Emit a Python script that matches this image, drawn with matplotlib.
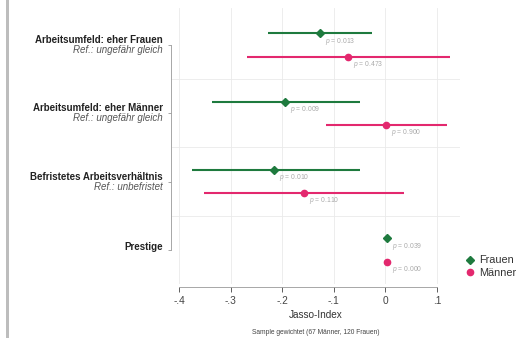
import matplotlib
matplotlib.use('Agg')
import matplotlib.pyplot as plt
from matplotlib.lines import Line2D
from matplotlib.patches import Rectangle

plt.rcParams['font.family'] = ['Liberation Sans', 'DejaVu Sans']
plt.rcParams['mathtext.fontset'] = 'custom'
plt.rcParams['mathtext.it'] = 'Liberation Sans:italic'
plt.rcParams['mathtext.rm'] = 'Liberation Sans'

# ============================================================
# DATA
# ============================================================
categories = ['Arbeitsumfeld: eher Frauen', 'Arbeitsumfeld: eher Männer',
              'Befristetes Arbeitsverhältnis', 'Prestige']
references = ['Ref.: ungefähr gleich', 'Ref.: ungefähr gleich',
              'Ref.: unbefristet', '']

frauen_est = [-0.126, -0.195, -0.216, 0.004]
frauen_lo = [-0.228, -0.337, -0.375, 0.002]
frauen_hi = [-0.025, -0.050, -0.050, 0.006]
frauen_p = ['0.013', '0.009', '0.010', '0.039']

maenner_est = [-0.072, 0.002, -0.158, 0.003]
maenner_lo = [-0.268, -0.115, -0.352, 0.002]
maenner_hi = [0.126, 0.119, 0.037, 0.004]
maenner_p = ['0.473', '0.900', '0.110', '0.000']

x_ticks = [-0.4, -0.3, -0.2, -0.1, 0.0, 0.1]
x_ticklabels = ['-.4', '-.3', '-.2', '-.1', '0', '.1']

GREEN = '#1e7a3e'
PINK = '#e3286e'
OFFSET = 0.17

fig = plt.figure(figsize=(5.24, 3.38), dpi=100)
ax = fig.add_axes([172 / 524, 1 - 284 / 338, 288 / 524, 276 / 338])

ypos = list(range(1, len(categories) + 1))

# gridlines
for x in x_ticks:
    ax.axvline(x, color='#eaeaea', lw=0.6, zorder=0)
for y in [1.5, 2.5, 3.5]:
    ax.axhline(y, color='#eaeaea', lw=0.6, zorder=0)

# Frauen
yf = [y - OFFSET for y in ypos]
ax.hlines(yf, frauen_lo, frauen_hi, color=GREEN, lw=1.5, zorder=2)
ax.plot(frauen_est, yf, 'D', color=GREEN, ms=4.2, zorder=3, ls='none')
# Maenner
ym = [y + OFFSET for y in ypos]
ax.hlines(ym, maenner_lo, maenner_hi, color=PINK, lw=1.5, zorder=2)
ax.plot(maenner_est, ym, 'o', color=PINK, ms=4.5, zorder=3, ls='none')

for est, y, p in zip(frauen_est + maenner_est, yf + ym, frauen_p + maenner_p):
    ax.annotate(f'$p$ = {p}', (est, y), xytext=(3.5, -5.5),
                textcoords='offset points', fontsize=4.9, color='#aaaaaa',
                ha='left', va='center')

ax.set_xlim(-0.4136, 0.1447)
ax.set_ylim(4.4976, 0.4585)

ax.set_xticks(x_ticks)
ax.set_xticklabels(x_ticklabels)
ax.set_yticks(ypos)
ax.set_yticklabels([])
ax.tick_params(axis='x', labelsize=7.3, colors='#444444', length=3.5, width=0.6, pad=3)
ax.tick_params(axis='y', length=2.5, width=0.6, colors='#999999')

for s in ['top', 'right']:
    ax.spines[s].set_visible(False)
ax.spines['bottom'].set_position(('outward', 2))
ax.spines['bottom'].set_bounds(-0.4, 0.1)
ax.spines['bottom'].set_color('#999999')
ax.spines['bottom'].set_linewidth(0.6)
ax.spines['left'].set_position(('outward', 1))
ax.spines['left'].set_bounds(1, 4)
ax.spines['left'].set_color('#999999')
ax.spines['left'].set_linewidth(0.6)

tr = ax.get_yaxis_transform()
for y, cat, ref in zip(ypos, categories, references):
    if ref:
        ax.text(-0.031, y - 0.075, cat, transform=tr, ha='right', va='center',
                fontsize=7, fontweight='bold', color='#222222')
        ax.text(-0.031, y + 0.075, ref, transform=tr, ha='right', va='center',
                fontsize=7, style='italic', color='#555555')
    else:
        ax.text(-0.031, y - 0.04, cat, transform=tr, ha='right', va='center',
                fontsize=7, fontweight='bold', color='#222222')

ax.set_xlabel('Jasso-Index', fontsize=7.2, color='#333333', labelpad=3)
fig.text(316 / 524, 1 - 332 / 338, 'Sample gewichtet (67 Männer, 120 Frauen)',
         fontsize=4.8, color='#444444', ha='center', va='center')

handles = [Line2D([], [], marker='D', color=GREEN, ls='none', ms=4.2),
           Line2D([], [], marker='o', color=PINK, ls='none', ms=4.5)]
fig.legend(handles, ['Frauen', 'Männer'], loc='upper left',
           bbox_to_anchor=(460 / 524, 1 - 250 / 338), frameon=False,
           fontsize=7.8, borderpad=0, handlelength=0.8, handletextpad=0.45,
           labelspacing=0.25, labelcolor='#333333')

# gray border at the left edge
fig.patches.append(Rectangle((6 / 524, 0), 2.5 / 524, 1, transform=fig.transFigure,
                             color='#bdbdbd', lw=0))

fig.savefig('out.png', dpi=100)
